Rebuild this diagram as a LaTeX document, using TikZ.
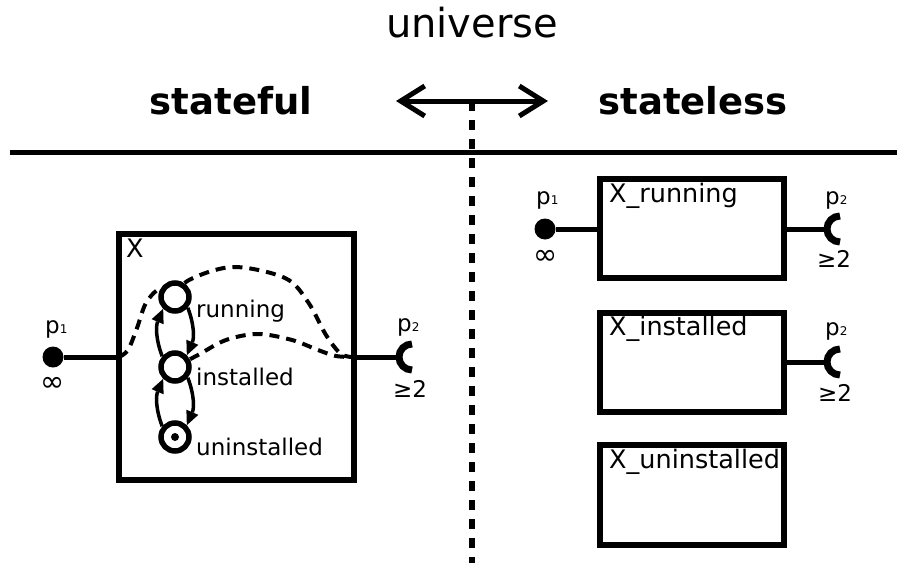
\documentclass[tikz,border=0pt]{standalone}
\usepackage{fontspec}
\setmainfont{DejaVu Sans}
\usetikzlibrary{arrows.meta}

% small index printed beside a port name
\newcommand{\portidx}[1]{{\fontsize{12}{12}\selectfont #1}}

\begin{document}
\begin{tikzpicture}[x=1pt,y=-1pt,
  heavy/.style={line width=5pt},
  divider/.style={line width=5.5pt, dash pattern=on 10pt off 9pt},
  comp/.style={draw, line width=6pt, minimum width=#1, inner sep=0pt},
  comp/.default=184pt,
  state/.style={circle, draw, line width=5.5pt, fill=white, minimum size=28pt, inner sep=0pt},
  trans/.style={line width=3.5pt, -{Triangle[length=14pt,width=13pt,line width=0pt]}},
  flow/.style={line width=4pt, dash pattern=on 10pt off 7pt},
  plug/.style={line width=5pt},
  socketarc/.style={line width=7pt},
  pin/.style={circle, fill=black, minimum size=21pt, inner sep=0pt},
  title/.style={font=\fontsize{40}{48}\selectfont, inner sep=0pt, anchor=base},
  side/.style={font=\bfseries\fontsize{37}{44}\selectfont, inner sep=0pt, anchor=base},
  lbl/.style={font=\fontsize{25.5}{30}\selectfont, inner sep=0pt, anchor=base west},
  stlbl/.style={font=\fontsize{23}{27}\selectfont, inner sep=0pt, anchor=base west},
  plbl/.style={font=\fontsize{23}{27}\selectfont, inner sep=0pt, anchor=base west},
  inf/.style={font=\fontsize{29}{32}\selectfont, inner sep=0pt},
]
\useasboundingbox (0,0) rectangle (897,563);

% ---------- header ----------
\node[title] (uni) at (472,37) {universe};
\node[side] (sf) at (231,114) {stateful};
\node[side] (sl) at (693,114) {stateless};

\coordinate (rl) at (10,152);
\coordinate (rr) at (897,152);
\draw[heavy] (rl) -- (rr);

\coordinate (aL) at (396,101);
\coordinate (aR) at (548,101);
\coordinate (aM) at (472,101);
\coordinate (aB) at (472,563);
\draw[divider] (aM) -- (aB);
\draw[heavy, {Straight Barb[length=24pt,width=30pt]}-{Straight Barb[length=24pt,width=30pt]}] (aL) -- (aR);

% ---------- stateful component ----------
\node[comp=235pt, minimum height=246pt] (X) at (236.5,357) {};
\node[lbl] (Xname) at (126,257) {X};

\coordinate (Xp1) at (119,357);
\coordinate (Xp2) at (354,357);

% data paths through the component
\draw[flow] plot[smooth, tension=0.55] coordinates
  {(Xp1) (128,350) (137,328) (146,303) (160,289) (175,297)};
\draw[flow] plot[smooth, tension=0.55] coordinates
  {(175,297) (189,280) (233,267) (285,278) (308,302) (326,335) (341,354) (Xp2)};
\draw[flow] plot[smooth, tension=0.55] coordinates
  {(175,367) (198,355) (226,340) (258,334) (292,340) (318,350) (336,356) (Xp2)};

% lifecycle states
\node[state] (run) at (175,297) {};
\node[state] (inst) at (175,367) {};
\node[state] (unin) at (175,437) {};
\node[circle, fill=black, minimum size=8pt, inner sep=0pt] (unindot) at (unin.center) {};

\node[stlbl] (runl) at (196,317) {running};
\node[stlbl] (instl) at (196,385) {installed};
\node[stlbl] (uninl) at (196,455) {uninstalled};

\draw[trans] (inst.140) to[bend left=22] (run.225);
\draw[trans] (run.-40) to[bend left=22] (inst.45);
\draw[trans] (unin.140) to[bend left=22] (inst.225);
\draw[trans] (inst.-40) to[bend left=22] (unin.45);

% ports of the stateful component
\node[pin] (Xdot) at (53,357) {};
\draw[plug] (Xdot) -- (Xp1);
\node[plbl] (Xp1l) at (45,333) {p\portidx{1}};
\node[inf] (Xinf) at (53,384) {∞};

\coordinate (Xs) at (412,357);
\coordinate (Xsl) at (399,357);
\draw[plug] (Xp2) -- (Xsl);
\draw[socketarc] (Xs) ++(0,13) arc[start angle=90, end angle=270, radius=13];
\node[plbl] (Xp2l) at (397,331) {p\portidx{2}};
\node[plbl] (Xge) at (393,397) {≥2};

% ---------- stateless components ----------
\node[comp, minimum height=99pt] (Xr) at (692,228.5) {};
\node[lbl] (Xrl) at (609,202) {X\_running};
\node[comp, minimum height=99pt] (Xi) at (692,362.5) {};
\node[lbl] (Xil) at (609,335) {X\_installed};
\node[comp, minimum height=100pt] (Xu) at (692,495) {};
\node[lbl] (Xul) at (609,468) {X\_uninstalled};

% ports of X_running
\node[pin] (Rdot) at (545,229) {};
\coordinate (Rp1) at (600,229);
\draw[plug] (Rdot) -- (Rp1);
\node[plbl] (Rp1l) at (536,204) {p\portidx{1}};
\node[inf] (Rinf) at (546,257) {∞};

\coordinate (Rp2) at (784,229);
\coordinate (Rs) at (840,229);
\coordinate (Rsl) at (827,229);
\draw[plug] (Rp2) -- (Rsl);
\draw[socketarc] (Rs) ++(0,13) arc[start angle=90, end angle=270, radius=13];
\node[plbl] (Rp2l) at (825,204) {p\portidx{2}};
\node[plbl] (Rge) at (817,267) {≥2};

% port of X_installed
\coordinate (Ip2) at (784,362);
\coordinate (Is) at (840,362);
\coordinate (Isl) at (827,362);
\draw[plug] (Ip2) -- (Isl);
\draw[socketarc] (Is) ++(0,13) arc[start angle=90, end angle=270, radius=13];
\node[plbl] (Ip2l) at (825,335) {p\portidx{2}};
\node[plbl] (Ige) at (818,401) {≥2};

\end{tikzpicture}
\end{document}
